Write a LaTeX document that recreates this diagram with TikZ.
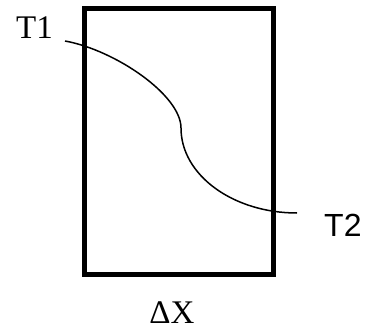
\documentclass[tikz,border=0pt]{standalone}
\usepackage{fontspec}
\newfontfamily\labserif{Liberation Serif}
\newfontfamily\labsans{Liberation Sans}
\begin{document}
\begin{tikzpicture}[x=1pt,y=-1pt,line join=miter]
			\tikzset{every node/.style={inner sep=0pt,font=\labserif\fontsize{33}{40}\selectfont},
				wall/.style={line width=5pt},
				temp/.style={line width=1.5pt}}
			\useasboundingbox (0,0) rectangle (375,329);
			\draw[wall] (84,9) rectangle (273,274);
			\coordinate (a) at (65,41);
			\coordinate (m) at (181,128);
			\coordinate (b) at (297,213);
			\draw[temp] (a) .. controls (115,50) and (181,95) .. (m)
				.. controls (181,175) and (233,213) .. (b);
			\node[anchor=base west] (t1) at (16,39) {T1};
			\node[anchor=base west,font=\labsans\fontsize{32}{38}\selectfont] (t2) at (324,236) {T2};
			\node[anchor=base] (dx) at (172,323) {ΔX};
		\end{tikzpicture}
\end{document}
